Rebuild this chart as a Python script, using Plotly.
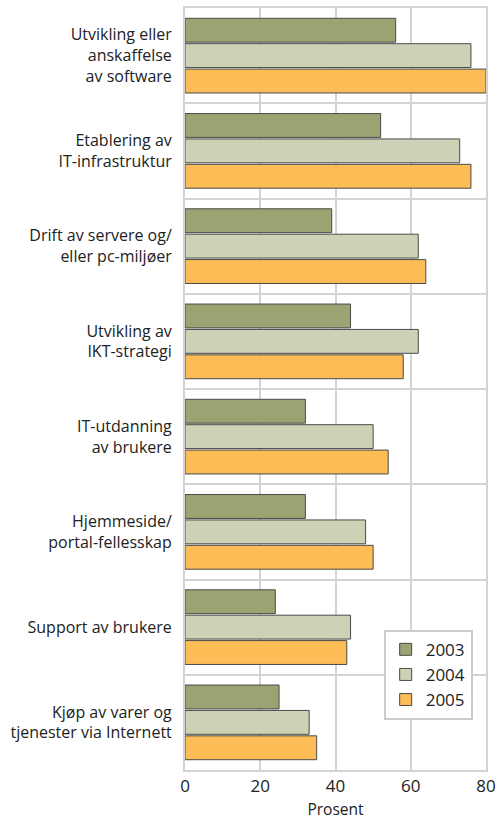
import plotly.graph_objects as go

categories = [
    "Utvikling eller<br>anskaffelse<br>av software",
    "Etablering av<br>IT-infrastruktur",
    "Drift av servere og/<br>eller pc-miljøer",
    "Utvikling av<br>IKT-strategi",
    "IT-utdanning<br>av brukere",
    "Hjemmeside/<br>portal-fellesskap",
    "Support av brukere",
    "Kjøp av varer og<br>tjenester via Internett",
]
years = ["2003", "2004", "2005"]
v2003 = [56, 52, 39, 44, 32, 32, 24, 25]
v2004 = [76, 73, 62, 62, 50, 48, 44, 33]
v2005 = [80, 76, 64, 58, 54, 50, 43, 35]
colors = ["#9da273", "#cdd1b5", "#fdbd56"]

fig = go.Figure()
for name, vals, col in zip(years, [v2003, v2004, v2005], colors):
    fig.add_trace(go.Bar(x=vals, y=categories, name=name, orientation="h",
                         marker=dict(color=col, line=dict(color="#4a4a4a", width=1))))

fig.update_layout(
    width=497, height=822,
    margin=dict(l=185, r=11, t=8, b=52),
    paper_bgcolor="white", plot_bgcolor="white",
    font=dict(family="Open Sans, Noto Sans, sans-serif", size=16, color="#222"),
    barmode="group", bargap=0.2, bargroupgap=0.06,
    legend=dict(x=0.66, y=0.184, xanchor="left", yanchor="top",
                bgcolor="white", bordercolor="#cccccc", borderwidth=2,
                font=dict(size=17), itemwidth=30, tracegroupgap=0),
    showlegend=True,
)
fig.update_xaxes(range=[0, 80], dtick=20, showgrid=True, gridcolor="#d3d3d3", gridwidth=2,
                 showline=True, linecolor="#d3d3d3", linewidth=2, mirror=True,
                 zeroline=False, ticks="", tickfont=dict(size=17), automargin=False,
                 title=dict(text="Prosent", font=dict(size=15.5), standoff=8))
fig.update_yaxes(autorange="reversed", tickson="boundaries", showgrid=True,
                 gridcolor="#d3d3d3", gridwidth=2, showline=True, linecolor="#d3d3d3",
                 linewidth=2, mirror=True, ticks="", ticklabelstandoff=8, automargin=False)

# page default body margin would shift the figure by 8px
fig.write_html("out.html", config={"displayModeBar": False},
               post_script="document.body.style.margin='0';")
